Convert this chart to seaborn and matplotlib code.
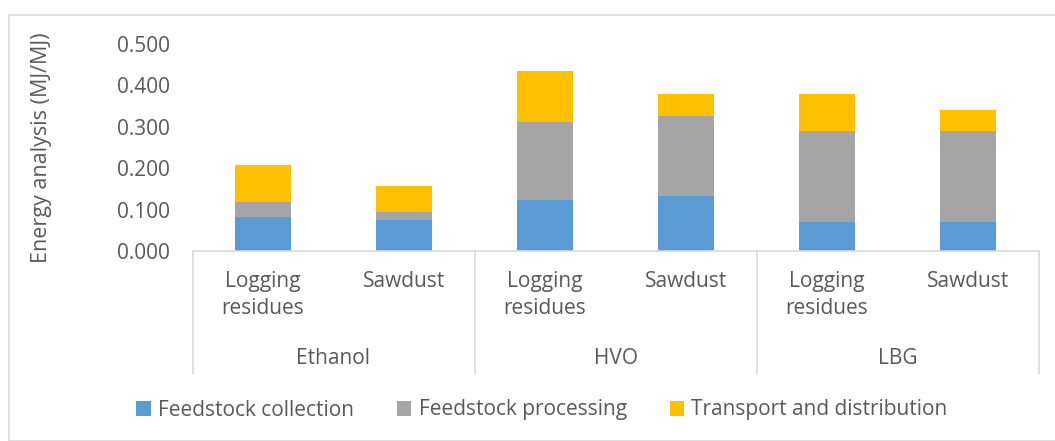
import matplotlib
matplotlib.use("Agg")
import matplotlib.pyplot as plt
import matplotlib.transforms as mtransforms
from matplotlib.patches import Rectangle, Patch
import pandas as pd
import seaborn as sns

fuels = ["Ethanol", "Ethanol", "HVO", "HVO", "LBG", "LBG"]
feedstocks = ["Logging\nresidues", "Sawdust", "Logging\nresidues", "Sawdust", "Logging\nresidues", "Sawdust"]
collection = [0.083, 0.075, 0.124, 0.133, 0.070, 0.071]
processing = [0.035, 0.020, 0.187, 0.192, 0.221, 0.220]
transport = [0.089, 0.061, 0.123, 0.055, 0.088, 0.049]
series_names = ["Feedstock collection", "Feedstock processing", "Transport and distribution"]
colors = ["#5B9BD5", "#A5A5A5", "#FFC000"]
yticks = [0.0, 0.1, 0.2, 0.3, 0.4, 0.5]

txt = "#595959"
sns.set_style("white")
plt.rcParams["font.family"] = ["Open Sans", "DejaVu Sans"]

df = pd.DataFrame({
    "key": [f"{a}|{b}" for a, b in zip(fuels, feedstocks)],
    "fuel": fuels,
    "feed": feedstocks,
    "c1": collection,
    "c2": [a + b for a, b in zip(collection, processing)],
    "c3": [a + b + c for a, b, c in zip(collection, processing, transport)],
})

W, H = 1055, 441
fig = plt.figure(figsize=(W / 100, H / 100), dpi=100)
ax = fig.add_axes([192.5 / W, 1 - 251 / H, (1038.5 - 192.5) / W, (251 - 44) / H])

# stacked bars drawn from the top layer down
for col, c in zip(["c3", "c2", "c1"], colors[::-1]):
    sns.barplot(data=df, x="key", y=col, color=c, width=0.4, saturation=1,
                errorbar=None, ax=ax, edgecolor="none")

ax.set_xlim(-0.5, len(df) - 0.5)
ax.set_ylim(0, 0.5)
ax.set_yticks(yticks)
ax.set_yticklabels([f"{v:.3f}" for v in yticks], fontsize=15, color=txt)
ax.tick_params(axis="y", length=0, pad=16)
ax.set_xticks([])
ax.set_xlabel("")
ax.set_ylabel("Energy analysis (MJ/MJ)", fontsize=15.5, color=txt)
ax.yaxis.set_label_coords(-0.166, 0.5)
for s in ["top", "right", "left"]:
    ax.spines[s].set_visible(False)
ax.spines["bottom"].set_color("#D9D9D9")
ax.spines["bottom"].set_linewidth(1.2)

# multi-level category axis
tr = mtransforms.blended_transform_factory(ax.transData, fig.transFigure)
y_axis = 1 - 251 / H
y_end = 1 - 374 / H
for xb in [-0.5, 1.5, 3.5, 5.5]:
    ax.plot([xb, xb], [y_axis, y_end], transform=tr, color="#D9D9D9",
            lw=1.2, clip_on=False)
for i, f in enumerate(feedstocks):
    ax.text(i, 1 - 271 / H, f, transform=tr, ha="center", va="top",
            fontsize=15, color=txt, linespacing=1.4)
groups = ["Ethanol", "HVO", "LBG"]
for j, g in enumerate(groups):
    ax.text(2 * j + 0.5, 1 - 359 / H, g, transform=tr, ha="center",
            va="center", fontsize=15, color=txt)

handles = [Patch(facecolor=c, edgecolor="none") for c in colors]
leg = fig.legend(handles, series_names, loc="center", ncol=3,
                 bbox_to_anchor=(542 / W, 1 - 410 / H), frameon=False,
                 fontsize=15, handlelength=0.7, handleheight=0.7,
                 handletextpad=0.35, columnspacing=2.05)
for t in leg.get_texts():
    t.set_color(txt)

fig.patches.append(Rectangle((8.5 / W, 0), 2, 1 - 15 / H, transform=fig.transFigure,
                             facecolor="none", edgecolor="#D9D9D9", lw=1.2))

fig.savefig("out.png", dpi=100)
